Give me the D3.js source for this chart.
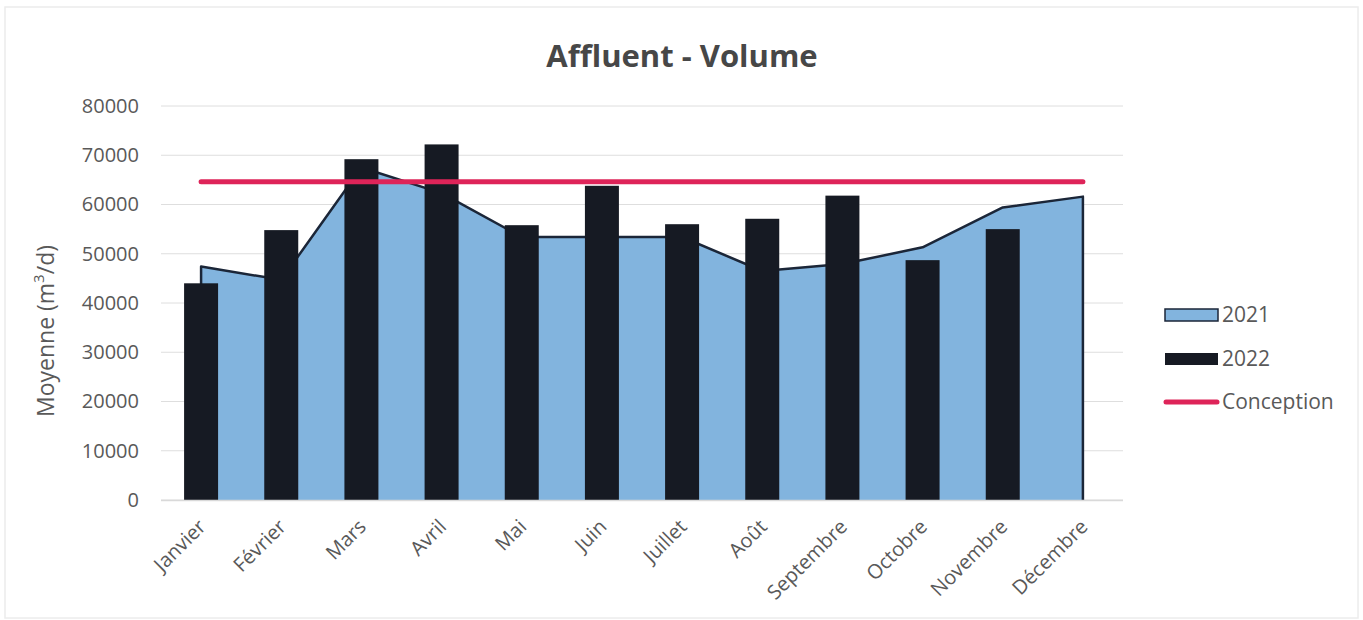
<!DOCTYPE html>
<html>
<head>
<meta charset="utf-8">
<script src="https://cdn.jsdelivr.net/npm/d3@7"></script>
<style>
  html, body { margin: 0; padding: 0; background: #fff; }
  svg { display: block; font-family: "Open Sans", "DejaVu Sans", sans-serif; }
</style>
</head>
<body>
<svg id="chart" width="1363" height="620"></svg>
<script>
// Monthly inflow volumes (m³/d)
const months = ["Janvier", "Février", "Mars", "Avril", "Mai", "Juin",
                "Juillet", "Août", "Septembre", "Octobre", "Novembre", "Décembre"];
const values2021 = [47400, 44700, 67500, 62300, 53400, 53400,
                    53400, 46500, 47900, 51300, 59400, 61600];
const values2022 = [44000, 54800, 69200, 72200, 55800, 63800,
                    56000, 57100, 61800, 48700, 55000];
const conception = 64600;
const yTicks = [0, 10000, 20000, 30000, 40000, 50000, 60000, 70000, 80000];

const seriesNames = ["2021", "2022", "Conception"];
const colors = { area: "#82b4de", areaStroke: "#1b2638", bar: "#161a23", line: "#de2459" };

const svg = d3.select("#chart");
const W = 1363, H = 620;
const plot = { left: 161, right: 1123, top: 106, bottom: 500 };

// faint chart frame
svg.append("rect")
  .attr("x", 5).attr("y", 7).attr("width", W - 10).attr("height", H - 9)
  .attr("fill", "none").attr("stroke", "#ececec").attr("stroke-width", 1.5);

const x = d3.scaleBand()
  .domain(months)
  .range([plot.left, plot.right])
  .paddingInner(0.576)
  .paddingOuter(0.288);

const y = d3.scaleLinear()
  .domain([0, 80000])
  .range([plot.bottom, plot.top]);

const cx = m => x(m) + x.bandwidth() / 2;

// horizontal gridlines
svg.append("g")
  .selectAll("line")
  .data(yTicks)
  .join("line")
  .attr("x1", plot.left).attr("x2", plot.right)
  .attr("y1", d => y(d)).attr("y2", d => y(d))
  .attr("stroke", "#dedede").attr("stroke-width", 1);

// y axis labels
const yAxis = d3.axisLeft(y).tickValues(yTicks).tickSize(0).tickPadding(0)
  .tickFormat(d3.format("d"));
const gy = svg.append("g").attr("transform", `translate(${139},0)`).call(yAxis);
gy.select(".domain").remove();
gy.selectAll("text")
  .attr("fill", "#595959").style("font-size", "20px")
  .style("font-family", "'Open Sans', sans-serif");

// y axis title
const yTitle = svg.append("text")
  .attr("transform", `translate(54,${331}) rotate(-90)`)
  .attr("text-anchor", "middle")
  .attr("fill", "#595959")
  .style("font-size", "23px");
yTitle.append("tspan").text("Moyenne (m");
yTitle.append("tspan").attr("baseline-shift", "super").style("font-size", "15px").text("3");
yTitle.append("tspan").text("/d)");

// 2021 as filled area
const area = d3.area()
  .x((d, i) => cx(months[i]))
  .y0(y(0))
  .y1(d => y(d));
svg.append("path")
  .datum(values2021)
  .attr("d", area)
  .attr("fill", colors.area);

// outline of the area: left edge, top line, right edge
const outline = d3.line()
  .x(d => d[0])
  .y(d => d[1]);
const outlinePts = [[cx(months[0]), y(0)]]
  .concat(values2021.map((v, i) => [cx(months[i]), y(v)]))
  .concat([[cx(months[months.length - 1]), y(0)]]);
svg.append("path")
  .datum(outlinePts)
  .attr("d", outline)
  .attr("fill", "none")
  .attr("stroke", colors.areaStroke)
  .attr("stroke-width", 2.5)
  .attr("stroke-linejoin", "round");

// 2022 as columns
svg.append("g")
  .selectAll("rect")
  .data(values2022)
  .join("rect")
  .attr("x", (d, i) => x(months[i]))
  .attr("width", x.bandwidth())
  .attr("y", d => y(d))
  .attr("height", d => y(0) - y(d))
  .attr("fill", colors.bar);

// baseline
svg.append("line")
  .attr("x1", plot.left).attr("x2", plot.right)
  .attr("y1", y(0) + 0.5).attr("y2", y(0) + 0.5)
  .attr("stroke", "#d9d9d9").attr("stroke-width", 1.5);

// design capacity line
svg.append("line")
  .attr("x1", cx(months[0])).attr("x2", cx(months[months.length - 1]))
  .attr("y1", y(conception)).attr("y2", y(conception))
  .attr("stroke", colors.line).attr("stroke-width", 5)
  .attr("stroke-linecap", "round");

// x axis labels, rotated
svg.append("g")
  .selectAll("text")
  .data(months)
  .join("text")
  .attr("transform", d => `translate(${cx(d) + 1},${523}) rotate(-45)`)
  .attr("text-anchor", "end")
  .attr("dy", "0.35em")
  .attr("fill", "#595959")
  .style("font-size", "20px")
  .text(d => d);

// title
svg.append("text")
  .attr("x", 682).attr("y", 67)
  .attr("text-anchor", "middle")
  .attr("fill", "#474747")
  .style("font-size", "31px")
  .style("font-weight", "bold")
  .text("Affluent - Volume");

// legend
const lg = svg.append("g").attr("transform", "translate(1165,0)");
const legendRows = [
  { name: seriesNames[0], yc: 315, kind: "area" },
  { name: seriesNames[1], yc: 359, kind: "bar" },
  { name: seriesNames[2], yc: 402, kind: "line" }
];
legendRows.forEach(r => {
  if (r.kind === "line") {
    lg.append("line").attr("x1", 1).attr("x2", 52).attr("y1", r.yc).attr("y2", r.yc)
      .attr("stroke", colors.line).attr("stroke-width", 5).attr("stroke-linecap", "round");
  } else {
    lg.append("rect").attr("x", 0).attr("y", r.yc - 6).attr("width", 53).attr("height", 12)
      .attr("fill", r.kind === "area" ? colors.area : colors.bar)
      .attr("stroke", r.kind === "area" ? colors.areaStroke : "none")
      .attr("stroke-width", 1.5);
  }
  lg.append("text").attr("x", 57).attr("y", r.yc).attr("dy", "0.35em")
    .attr("fill", "#595959").style("font-size", "21px").text(r.name);
});
</script>
</body>
</html>
